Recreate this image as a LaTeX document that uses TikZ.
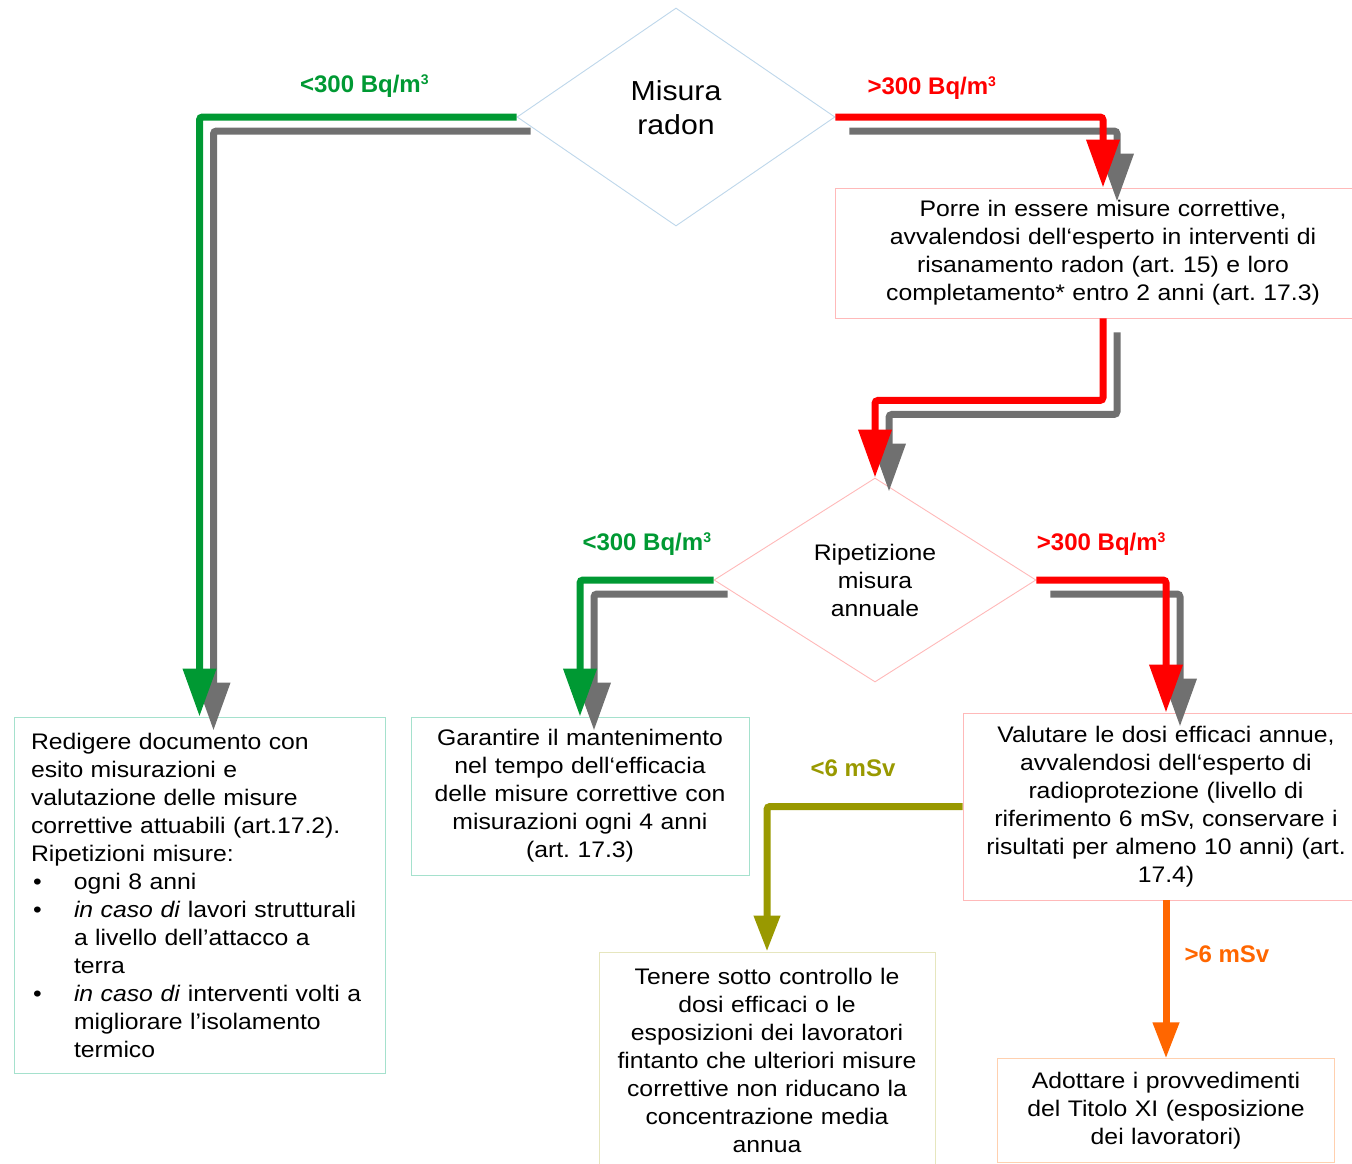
\documentclass[tikz,border=0pt]{standalone}
\usepackage{fontspec}
\setmainfont{Liberation Sans}
\newfontfamily\RDfont[FakeStretch=1.1]{Liberation Sans}
\usetikzlibrary{positioning, arrows.meta, shapes.geometric}
\definecolor{RDgreen}{RGB}{0, 153, 51}
\definecolor{RDred}{RGB}{255, 0, 0}
\definecolor{RDgray}{RGB}{112, 112, 112}
\definecolor{RDolive}{RGB}{153, 153, 0}
\definecolor{RDorange}{RGB}{255, 102, 0}
\definecolor{RDblueline}{RGB}{190, 215, 235}
\definecolor{RDpinkline}{RGB}{255, 185, 185}
\definecolor{RDgreenline}{RGB}{165, 225, 205}
\definecolor{RDyellowline}{RGB}{230, 230, 190}
\definecolor{RDorangeline}{RGB}{255, 208, 175}
\newcommand{\RDbul}{\makebox[43pt][l]{\hspace{2pt}\textbullet}}
\newcommand{\RDind}{\hspace*{43pt}}
\newcommand{\RDcube}{\raisebox{8pt}{\fontsize{14}{14}\selectfont 3}}
\frenchspacing
\tikzset{
  box/.style={rectangle, draw=#1, fill=white, line width=0.9pt, align=center, inner sep=0pt,
    font=\RDfont\fontsize{22.5}{28}\selectfont},
  choice/.style={diamond, aspect=1.5, draw=#1, fill=white, line width=0.9pt, align=center, inner sep=0pt},
  flow/.style={line width=7pt, rounded corners=3pt, -{Triangle[length=48pt, width=32pt]}},
  thinflow/.style={line width=7pt, rounded corners=3pt, -{Triangle[length=36pt, width=25pt]}},
  shade/.style={flow, RDgray, transform canvas={shift={(14pt,-14pt)}}},
  lab/.style={font=\bfseries\fontsize{24}{28}\selectfont, text=#1, inner sep=0pt},
}
\begin{document}
\begin{tikzpicture}[x=1pt, y=-1pt]
    \useasboundingbox (0,0) rectangle (1352,1164);
    % decisions
    \node[choice=RDblueline, minimum width=318pt, minimum height=218pt, text depth=18pt,
      font=\RDfont\fontsize{27.5}{34}\selectfont] (misura) at (676,117) {Misura\\radon};
    \node[choice=RDpinkline, minimum width=322pt, minimum height=204pt,
      font=\RDfont\fontsize{22.5}{28}\selectfont] (ripet) at (875,580) {Ripetizione\\misura\\annuale};
    % actions
    \node[box=RDpinkline, minimum width=536pt, minimum height=130pt, text width=520pt] (porre) at (1103,253)
      {Porre in essere misure correttive,\\avvalendosi dell‘esperto in interventi di\\risanamento radon (art. 15) e loro\\completamento* entro 2 anni (art. 17.3)};
    \node[box=RDgreenline, minimum width=371pt, minimum height=356pt, text width=337pt, align=left] (redigere) at (199.5,895)
      {Redigere documento con\\esito misurazioni e\\valutazione delle misure\\correttive attuabili (art.17.2).\\Ripetizioni misure:\\
       \RDbul ogni 8 anni\\
       \RDbul\textit{in caso di} lavori strutturali\\\RDind a livello dell’attacco a\\\RDind terra\\
       \RDbul\textit{in caso di} interventi volti a\\\RDind migliorare l’isolamento\\\RDind termico};
    \node[box=RDgreenline, minimum width=338pt, minimum height=158pt, text width=330pt] (garantire) at (580,796)
      {Garantire il mantenimento\\nel tempo dell‘efficacia\\delle misure correttive con\\misurazioni ogni 4 anni\\(art. 17.3)};
    \node[box=RDpinkline, minimum width=406pt, minimum height=187pt, text width=390pt] (valutare) at (1166,806.5)
      {Valutare le dosi efficaci annue,\\avvalendosi dell‘esperto di\\radioprotezione (livello di\\riferimento 6 mSv, conservare i\\risultati per almeno 10 anni) (art.\\17.4)};
    \node[box=RDyellowline, minimum width=336pt, minimum height=216pt, text width=330pt] (tenere) at (767,1060)
      {Tenere sotto controllo le\\dosi efficaci o le\\esposizioni dei lavoratori\\fintanto che ulteriori misure\\correttive non riducano la\\concentrazione media\\annua};
    \node[box=RDorangeline, minimum width=337pt, minimum height=104pt, text width=330pt, below=158pt of valutare] (adottare)
      {Adottare i provvedimenti\\del Titolo XI (esposizione\\dei lavoratori)};
    % shadows
    \draw[shade] (misura.west) -| (redigere.north);
    \draw[shade] (misura.east) -| (porre.north);
    \draw[shade] (porre.south) -- ++(0,82) -| (ripet.north);
    \draw[shade] (ripet.west) -| (garantire.north);
    \draw[shade] (ripet.east) -| (valutare.north);
    % connectors
    \draw[flow, RDgreen] (misura.west) -| node[lab=RDgreen, pos=0.24, above=16pt] {<300 Bq/m\RDcube} (redigere.north);
    \draw[flow, RDred] (misura.east) -| node[lab=RDred, pos=0.18, above=14pt] {>300 Bq/m\RDcube} (porre.north);
    \draw[flow, RDred] (porre.south) -- ++(0,82) -| (ripet.north);
    \draw[flow, RDgreen] (ripet.west) -| node[lab=RDgreen, pos=0.25, above=21pt] {<300 Bq/m\RDcube} (garantire.north);
    \draw[flow, RDred] (ripet.east) -| node[lab=RDred, pos=0.25, above=21pt] {>300 Bq/m\RDcube} (valutare.north);
    \draw[thinflow, RDolive] (valutare.west) -| node[lab=RDolive, pos=0.28, above=26pt] {<6 mSv} (tenere.north);
    \draw[thinflow, RDorange] (valutare.south) -- node[lab=RDorange, pos=0.34, right=15pt] {>6 mSv} (adottare.north);
\end{tikzpicture}
\end{document}
